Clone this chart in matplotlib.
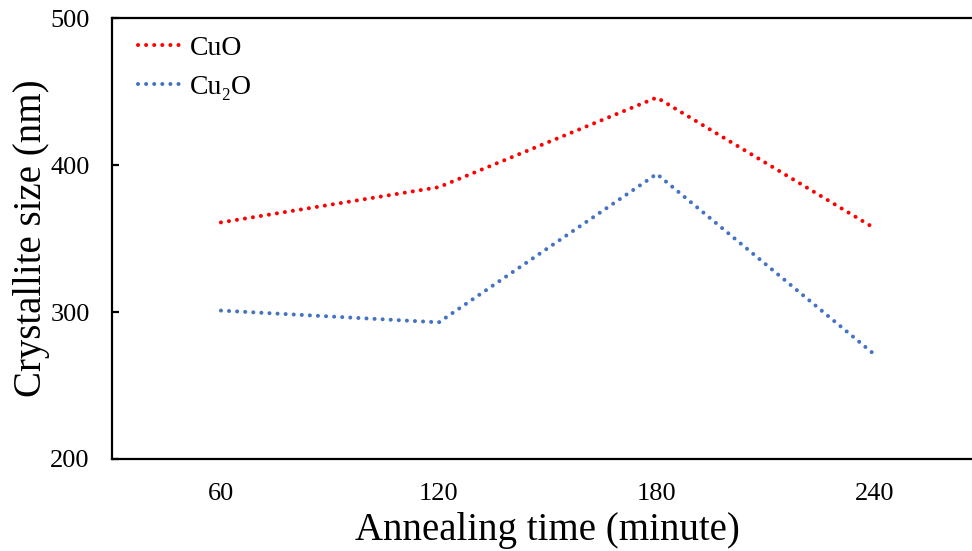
import matplotlib
matplotlib.use('Agg')
import matplotlib.pyplot as plt

# annealing time categories and crystallite sizes
times = ['60', '120', '180', '240']
cuo = [361, 385, 446, 357]
cu2o = [301, 293, 394, 271]
y_ticks = [200, 300, 400, 500]

plt.rcParams['font.family'] = ['Liberation Serif', 'DejaVu Serif']

fig = plt.figure(figsize=(9.72, 5.51), dpi=100)
ax = fig.add_axes([0.1152, 0.167, 0.8968, 0.800])

x = range(len(times))
dots = (0, (0.01, 2.0))
ax.plot(x, cuo, color='#FF0000', lw=2.9, linestyle=dots,
        dash_capstyle='round', label='CuO')
ax.plot(x, cu2o, color='#4472C4', lw=2.9, linestyle=dots,
        dash_capstyle='round', label='Cu\u2082O')

ax.set_xlim(-0.5, 3.5)
ax.set_ylim(200, 500)
ax.set_xticks(list(x))
ax.set_xticklabels(times)
ax.set_yticks(y_ticks)

for side in ('left', 'bottom', 'top'):
    ax.spines[side].set_linewidth(1.6)
ax.spines['right'].set_visible(False)

ax.tick_params(axis='y', direction='in', length=5, width=1.6,
               labelsize=19, pad=16)
ax.tick_params(axis='x', length=0, labelsize=19, pad=17)

ax.set_xlabel('Annealing time (minute)', fontsize=28, labelpad=5)
ax.set_ylabel('Crystallite size (nm)', fontsize=28, labelpad=0)

ax.legend(loc='upper left', frameon=False, fontsize=20,
          handlelength=1.6, handletextpad=0.25, labelspacing=0.5,
          borderaxespad=0.3, bbox_to_anchor=(0.008, 1.005))

fig.savefig('out.png', dpi=100)
